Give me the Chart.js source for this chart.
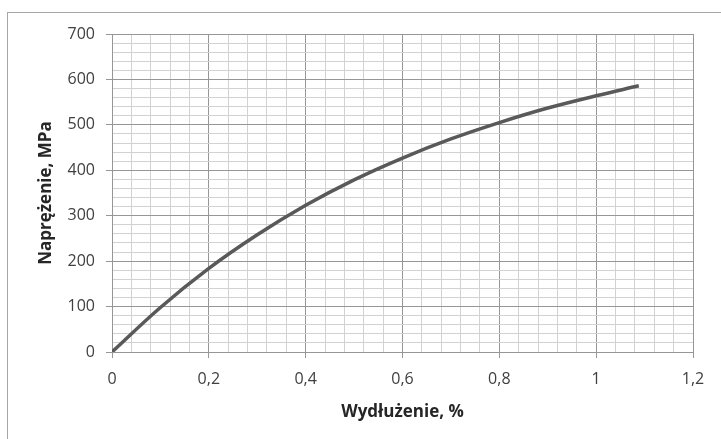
<!DOCTYPE html>
<html lang="pl">
<head>
<meta charset="utf-8">
<title>Naprężenie - wydłużenie</title>
<script src="https://cdn.jsdelivr.net/npm/chart.js@4.4.1/dist/chart.umd.min.js"></script>
<style>
    html, body { margin: 0; padding: 0; background: #fff; overflow: hidden; }
    #frame {
        position: absolute; left: 7px; top: 12px; width: 900px; height: 600px;
        border-top: 1px solid #a6a6a6; border-left: 1px solid #a6a6a6;
    }
    #wrap { position: absolute; left: 0; top: 0; width: 721px; height: 439px; }
</style>
</head>
<body>
<div id="frame"></div>
<div id="wrap"><canvas id="stressChart" width="721" height="439"></canvas></div>
<script>
// Wydłużenie, %
const elongation = [0, 0.1, 0.2, 0.3, 0.4, 0.5, 0.6, 0.7, 0.8, 0.9, 1.0, 1.088];
// Naprężenie, MPa
const stress = [0, 98, 184, 258, 323, 379, 427, 469, 505, 537, 564, 586];

const xMin = 0, xMax = 1.2, xMajor = 0.2, xMinor = 0.04;
const yMin = 0, yMax = 700, yMajor = 100, yMinor = 20;

const majorColor = '#969696';
const minorColor = '#d2d2d2';

function isMajor(value, step) {
    const r = value / step;
    return Math.abs(r - Math.round(r)) < 1e-6;
}

function plLabel(value) {
    return String(Math.round(value * 100) / 100).replace('.', ',');
}

document.addEventListener('DOMContentLoaded', function() {
    const points = elongation.map((x, i) => ({ x: x, y: stress[i] }));

    const ctx = document.getElementById('stressChart');
    new Chart(ctx.getContext('2d'), {
        type: 'line',
        data: {
            datasets: [{
                label: 'Naprężenie',
                data: points,
                borderColor: '#595959',
                borderWidth: 3.5,
                pointRadius: 0,
                tension: 0.4,
                fill: false
            }]
        },
        options: {
            responsive: false,
            animation: false,
            layout: { padding: { top: 34, right: 28, left: 0, bottom: 0 } },
            plugins: {
                legend: { display: false },
                tooltip: { enabled: false }
            },
            scales: {
                x: {
                    type: 'linear',
                    min: xMin,
                    max: xMax,
                    afterFit: function(scale) { scale.height = 87; },
                    ticks: {
                        stepSize: xMinor,
                        autoSkip: false,
                        maxRotation: 0,
                        padding: 12,
                        color: '#404040',
                        font: { family: 'Open Sans', size: 16 },
                        callback: function(value) {
                            return isMajor(value, xMajor) ? plLabel(value) : '';
                        }
                    },
                    grid: {
                        tickLength: 6,
                        color: c => isMajor(c.tick.value, xMajor) ? majorColor : minorColor,
                        tickColor: c => isMajor(c.tick.value, xMajor) ? majorColor : 'transparent'
                    },
                    border: { color: majorColor },
                    title: {
                        display: true,
                        text: 'Wydłużenie, %',
                        color: '#262626',
                        font: { family: 'Open Sans', size: 17, weight: 'bold' },
                        padding: { top: 0, bottom: 17 }
                    }
                },
                y: {
                    min: yMin,
                    max: yMax,
                    afterFit: function(scale) { scale.width = 112; },
                    ticks: {
                        stepSize: yMinor,
                        autoSkip: false,
                        padding: 11,
                        color: '#404040',
                        font: { family: 'Open Sans', size: 16 },
                        callback: function(value) {
                            return isMajor(value, yMajor) ? String(value) : '';
                        }
                    },
                    grid: {
                        tickLength: 6,
                        color: c => isMajor(c.tick.value, yMajor) ? majorColor : minorColor,
                        tickColor: c => isMajor(c.tick.value, yMajor) ? majorColor : 'transparent'
                    },
                    border: { color: majorColor },
                    title: {
                        display: true,
                        text: 'Naprężenie, MPa',
                        color: '#262626',
                        font: { family: 'Open Sans', size: 17, weight: 'bold' },
                        padding: { top: 36, bottom: 0 }
                    }
                }
            }
        }
    });
});
</script>
</body>
</html>
